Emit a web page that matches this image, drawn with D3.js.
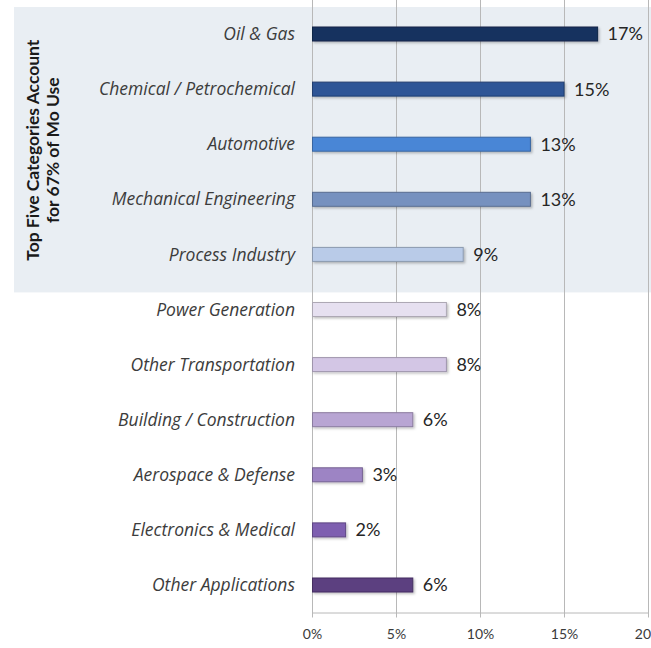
<!DOCTYPE html>
<html>
<head>
<meta charset="utf-8">
<script src="https://cdn.jsdelivr.net/npm/d3@7"></script>
<style>
  html, body { margin: 0; padding: 0; background: #ffffff; }
  svg { display: block; }
</style>
</head>
<body>
<svg id="chart" width="651" height="648"></svg>
<script>
const categories = [
  "Oil & Gas",
  "Chemical / Petrochemical",
  "Automotive",
  "Mechanical Engineering",
  "Process Industry",
  "Power Generation",
  "Other Transportation",
  "Building / Construction",
  "Aerospace & Defense",
  "Electronics & Medical",
  "Other Applications"
];
const values = [17, 15, 13, 13, 9, 8, 8, 6, 3, 2, 6];
const barColors = [
  "#17325e", "#2d5596", "#4a86d6", "#7691bf", "#b9cbe8",
  "#e6e0f0", "#d3c6e5", "#b8a5d3", "#9d84c4", "#7e5fb0", "#5b3f80"
];
const tickValues = [0, 5, 10, 15, 20];
const tickLabels = ["0%", "5%", "10%", "15%", "20%"];
const highlightCount = 5;
const highlightLabel = ["Top Five Categories Account", "for 67% of Mo Use"];

const svg = d3.select("#chart");
const W = 651, H = 648;
const FONT = "Lato, 'Open Sans', sans-serif";
const ITALIC_FONT = "'Open Sans', sans-serif";

const x = d3.scaleLinear().domain([0, 20]).range([312, 648]);
const y = d3.scalePoint().domain(categories).range([34, 585]);
const barH = 14;
const axisY = 612;

const defs = svg.append("defs");
const f = defs.append("filter").attr("id", "shadow")
  .attr("x", "-5%").attr("y", "-40%").attr("width", "115%").attr("height", "200%");
f.append("feDropShadow").attr("dx", 1.5).attr("dy", 1.5).attr("stdDeviation", 1.2)
  .attr("flood-color", "#000").attr("flood-opacity", 0.25);

// highlight band for top five
const lastTop = categories[highlightCount - 1];
const bandBottom = y(lastTop) + y.step() * 0.69;
svg.append("rect")
  .attr("x", 14).attr("y", 7)
  .attr("width", W - 14).attr("height", bandBottom - 7)
  .attr("fill", "#e9eef3");

// gridlines
svg.append("g").selectAll("line")
  .data(tickValues)
  .join("line")
  .attr("x1", d => Math.round(x(d)) + 0.5)
  .attr("x2", d => Math.round(x(d)) + 0.5)
  .attr("y1", 0).attr("y2", axisY + 5)
  .attr("stroke", "#b8b8b8").attr("stroke-width", 1);

// bottom axis
const xAxis = d3.axisBottom(x)
  .tickValues(tickValues)
  .tickFormat((d, i) => tickLabels[i])
  .tickSize(5)
  .tickSizeOuter(0)
  .tickPadding(12);
const ax = svg.append("g").attr("transform", `translate(0,${axisY + 0.5})`).call(xAxis);
ax.select(".domain").attr("stroke", "#b8b8b8");
ax.selectAll(".tick line").attr("stroke", "#b8b8b8");
ax.selectAll(".tick text")
  .attr("fill", "#3a3a3a")
  .style("font-family", FONT)
  .style("font-size", "14px");

// bars
svg.append("g").selectAll("rect")
  .data(values)
  .join("rect")
  .attr("x", x(0) + 0.5)
  .attr("y", (d, i) => y(categories[i]) - barH / 2)
  .attr("width", d => x(d) - x(0) - 0.5)
  .attr("height", barH)
  .attr("fill", (d, i) => barColors[i])
  .attr("stroke", (d, i) => d3.color(barColors[i]).darker(0.8))
  .attr("stroke-width", 1)
  .attr("filter", "url(#shadow)");

// value labels
svg.append("g").selectAll("text")
  .data(values)
  .join("text")
  .attr("x", d => x(d) + 10)
  .attr("y", (d, i) => y(categories[i]))
  .attr("dy", "0.36em")
  .attr("fill", "#262626")
  .style("font-family", FONT)
  .style("font-size", "18px")
  .text(d => d + "%");

// category labels
svg.append("g").selectAll("text")
  .data(categories)
  .join("text")
  .attr("x", 295)
  .attr("y", d => y(d))
  .attr("dy", "0.35em")
  .attr("text-anchor", "end")
  .attr("fill", "#3c3c3c")
  .style("font-family", ITALIC_FONT)
  .style("font-style", "italic")
  .style("font-size", "17.5px")
  .text(d => d);

// vertical highlight label
const cy = (y(categories[0]) + y(lastTop)) / 2 + 6;
const vl = svg.append("text")
  .attr("transform", `translate(43,${cy}) rotate(-90)`)
  .attr("text-anchor", "middle")
  .attr("fill", "#1a1a1a")
  .style("font-family", FONT)
  .style("font-weight", "bold")
  .style("font-size", "17.5px");
vl.selectAll("tspan")
  .data(highlightLabel)
  .join("tspan")
  .attr("x", 0)
  .attr("y", (d, i) => (i === 0 ? -10 : 10) + 6)
  .text(d => d);
</script>
</body>
</html>
